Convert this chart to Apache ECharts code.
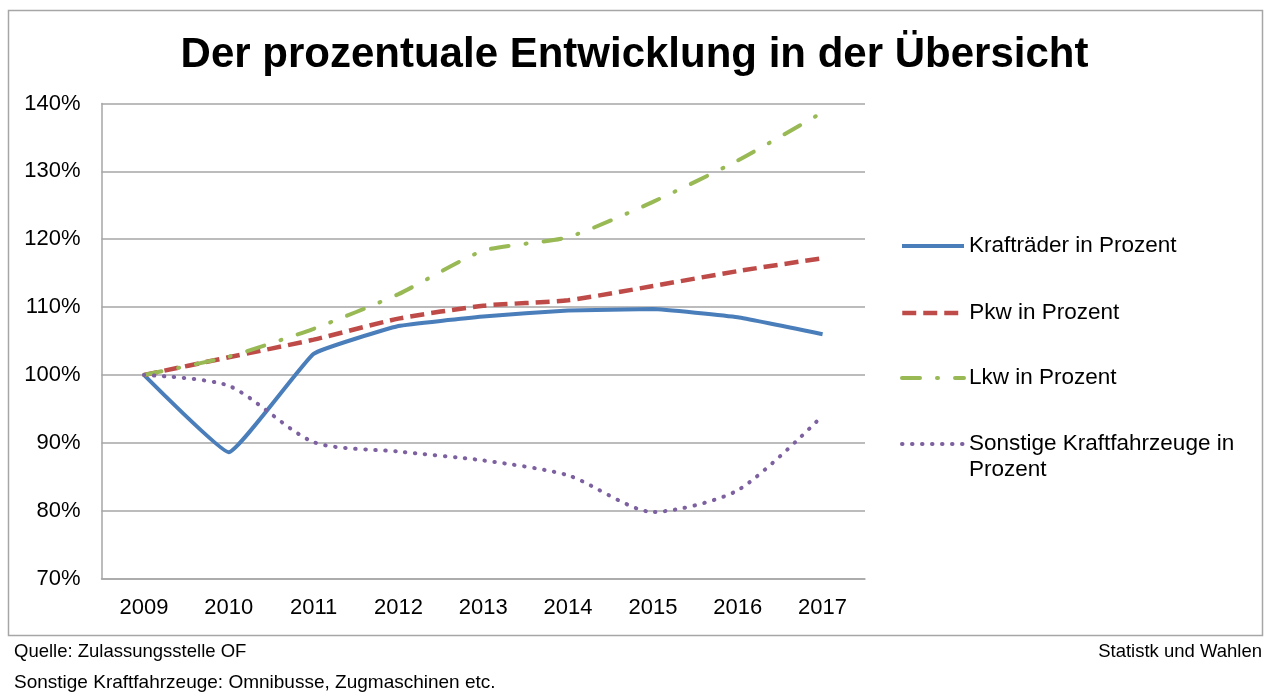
<!DOCTYPE html>
<html lang="de">
<head>
    <meta charset="UTF-8">
    <title>Entwicklung</title>
    <script src="https://cdn.jsdelivr.net/npm/echarts@6/dist/echarts.min.js"></script>
    <style>
        html, body { margin: 0; padding: 0; background: #fff; }
        #main { width: 1269px; height: 694px; }
    </style>
</head>
<body>
<div id="main"></div>
<script>
    // Daten (Prozent, 2009 = 100)
    var years = ['2009', '2010', '2011', '2012', '2013', '2014', '2015', '2016', '2017'];
    var kraftraeder = [100, 88.6, 103.1, 107.2, 108.6, 109.5, 109.7, 108.5, 106.0];
    var pkw = [100, 102.6, 105.2, 108.3, 110.2, 111.0, 113.1, 115.3, 117.2];
    var lkw = [100, 102.7, 106.8, 111.9, 118.3, 120.3, 125.5, 131.6, 138.7];
    var sonstige = [100, 98.4, 90.1, 88.7, 87.4, 85.2, 79.8, 83.0, 94.0];
    var seriesNames = ['Krafträder in Prozent', 'Pkw in Prozent', 'Lkw in Prozent', 'Sonstige Kraftfahrzeuge in Prozent'];

    var font = '"Liberation Sans", Arial, sans-serif';

    function legendFor(name, top, width, twoLines) {
        return {
            data: [name],
            left: 900,
            top: top,
            padding: 0,
            itemWidth: 62,
            itemHeight: 14,
            selectedMode: false,
            itemStyle: { opacity: 0 },
            lineStyle: { width: width },
            // letzte Zeile umbrechen, Symbol bleibt auf Höhe der ersten Zeile
            formatter: twoLines ? function (n) { return '\n' + n.replace(' Prozent', '\nProzent'); } : null,
            textStyle: { color: '#000', fontSize: 22.5, fontFamily: font, lineHeight: 26 }
        };
    }

    var myChart = echarts.init(document.getElementById('main'));
    var option = {
        animation: false,
        title: {
            text: 'Der prozentuale Entwicklung in der Übersicht',
            left: 'center',
            top: 29,
            textStyle: { fontSize: 42, fontWeight: 'bold', fontFamily: font, color: '#000' }
        },
        legend: [
            legendFor(seriesNames[0], 233, 4),
            legendFor(seriesNames[1], 300, 4.5),
            legendFor(seriesNames[2], 365, 4),
            legendFor(seriesNames[3], 405, 4, true)
        ],
        grid: { left: 101.5, right: 404, top: 103.5, bottom: 115.5 },
        xAxis: {
            type: 'category',
            data: years,
            boundaryGap: true,
            axisLine: { show: true, lineStyle: { color: '#a6a6a6', width: 1.5 } },
            axisTick: { show: false },
            axisLabel: { color: '#000', fontSize: 22, fontFamily: font, margin: 18 }
        },
        yAxis: {
            type: 'value',
            min: 70,
            max: 140,
            interval: 10,
            axisLine: { show: true, lineStyle: { color: '#a6a6a6', width: 1.5 } },
            axisTick: { show: false },
            splitLine: { lineStyle: { color: '#a6a6a6', width: 1.5 } },
            axisLabel: { color: '#000', fontSize: 22, fontFamily: font, margin: 21, formatter: '{value}%' }
        },
        series: [
            {
                name: seriesNames[0], type: 'line', data: kraftraeder, symbol: 'none', smooth: 0.1,
                lineStyle: { color: '#4a7ebb', width: 4 }, itemStyle: { color: '#4a7ebb' }
            },
            {
                name: seriesNames[1], type: 'line', data: pkw, symbol: 'none', smooth: 0.2,
                lineStyle: { color: '#be4b48', width: 4.5, type: [14, 7] }, itemStyle: { color: '#be4b48' }
            },
            {
                name: seriesNames[2], type: 'line', data: lkw, symbol: 'none', smooth: 0.2,
                lineStyle: { color: '#98b954', width: 4, type: [18, 17, 1, 17], cap: 'round' }, itemStyle: { color: '#98b954' }
            },
            {
                name: seriesNames[3], type: 'line', data: sonstige, symbol: 'none', smooth: 0.25,
                lineStyle: { color: '#7d60a0', width: 4, type: [0.5, 9.5], cap: 'round' }, itemStyle: { color: '#7d60a0' }
            }
        ],
        graphic: [
            {
                type: 'rect', silent: true,
                shape: { x: 8.5, y: 10.5, width: 1254, height: 625 },
                style: { fill: 'none', stroke: '#a6a6a6', lineWidth: 1.5 }
            },
            {
                type: 'text', left: 14, top: 642,
                style: { text: 'Quelle: Zulassungsstelle OF', fontSize: 18.5, fontFamily: font, fill: '#000' }
            },
            {
                type: 'text', right: 7, top: 642,
                style: { text: 'Statistk und Wahlen', fontSize: 18.5, fontFamily: font, fill: '#000' }
            },
            {
                type: 'text', left: 14, top: 673,
                style: { text: 'Sonstige Kraftfahrzeuge: Omnibusse, Zugmaschinen etc.', fontSize: 19, fontFamily: font, fill: '#000' }
            }
        ]
    };
    myChart.setOption(option);
</script>
</body>
</html>
